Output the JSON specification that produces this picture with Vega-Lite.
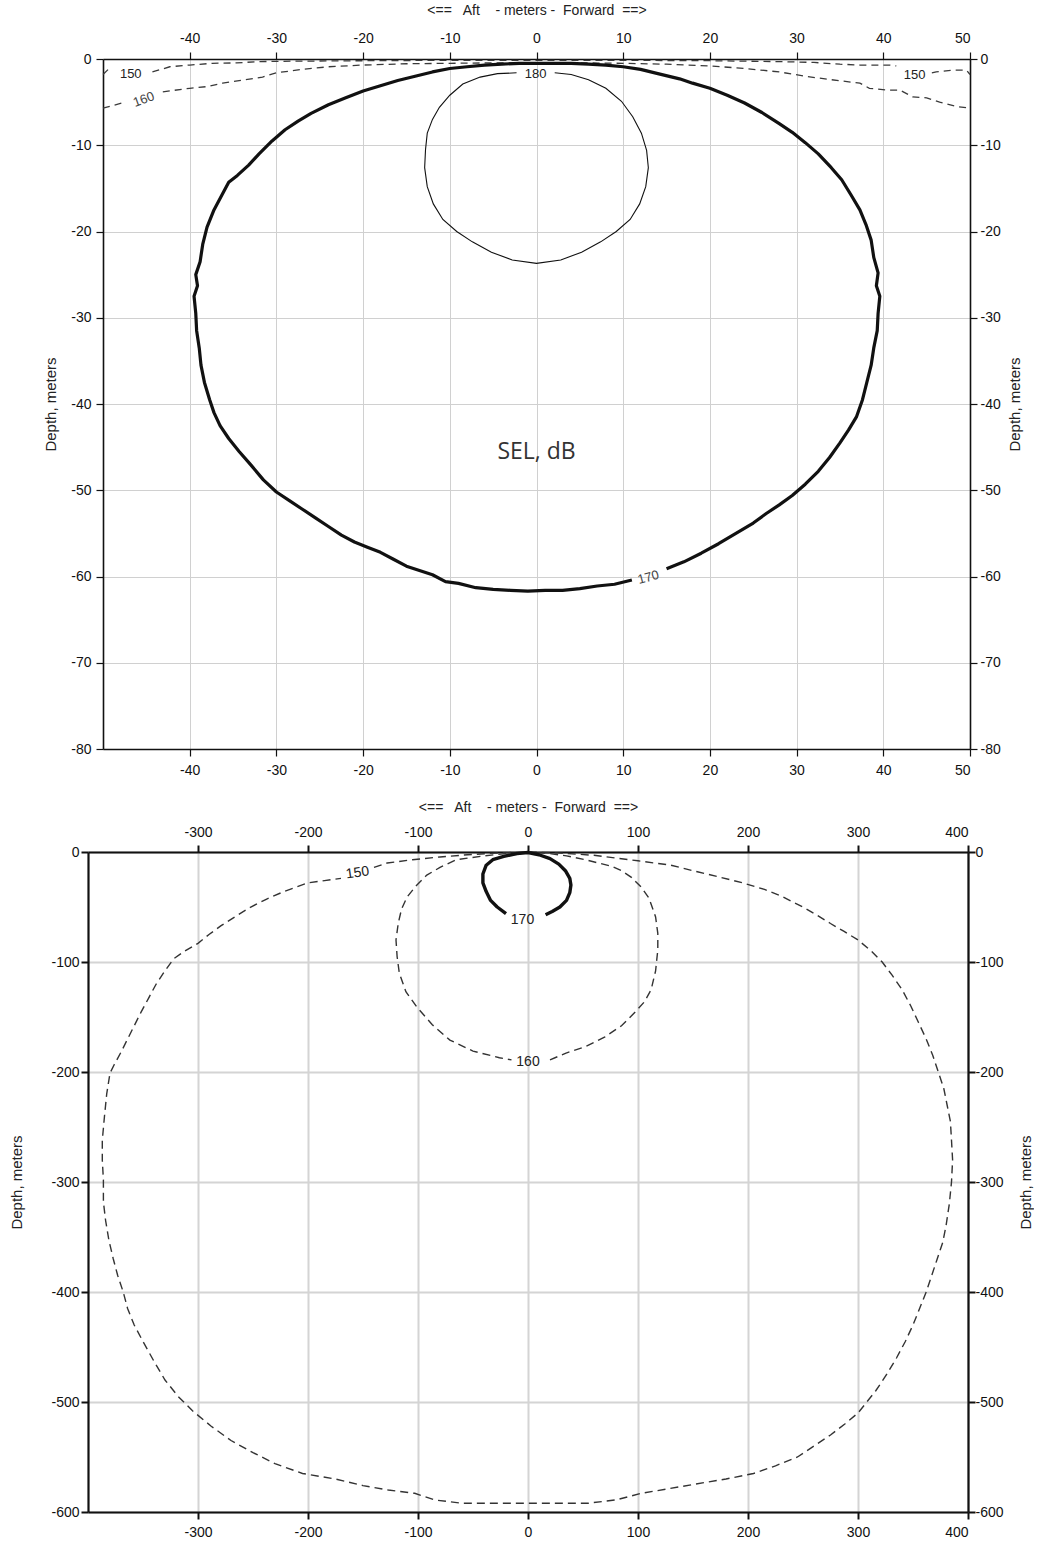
{
"$schema": "https://vega.github.io/schema/vega-lite/v6.json",
"padding": {"left": 9, "top": 3, "right": 0, "bottom": 0},
"background": "white",
"config": {
  "view": {"stroke": null},
  "axis": {"labelFont": "Liberation Sans Narrow, Liberation Sans, sans-serif", "labelFontSize": 14, "labelColor": "#111", "titleFont": "Liberation Sans, sans-serif", "titleFontWeight": "normal", "titleFontSize": 15, "titleColor": "#222", "domainColor": "#111", "tickColor": "#111"}
},
"datasets": {
"top": [
{"s":"t180","c":180,"i":0,"x":2.1,"y":-1.6},{"s":"t180","c":180,"i":1,"x":4,"y":-1.8},{"s":"t180","c":180,"i":2,"x":6,"y":-2.4},{"s":"t180","c":180,"i":3,"x":8,"y":-3.4},{"s":"t180","c":180,"i":4,"x":9.8,"y":-4.9},{"s":"t180","c":180,"i":5,"x":11.1,"y":-6.7},{"s":"t180","c":180,"i":6,"x":12.1,"y":-8.6},{"s":"t180","c":180,"i":7,"x":12.7,"y":-10.6},{"s":"t180","c":180,"i":8,"x":12.9,"y":-12.6},{"s":"t180","c":180,"i":9,"x":12.6,"y":-14.8},{"s":"t180","c":180,"i":10,"x":11.9,"y":-16.8},{"s":"t180","c":180,"i":11,"x":10.8,"y":-18.6},{"s":"t180","c":180,"i":12,"x":9.2,"y":-20},{"s":"t180","c":180,"i":13,"x":7.4,"y":-21.2},{"s":"t180","c":180,"i":14,"x":5.2,"y":-22.4},{"s":"t180","c":180,"i":15,"x":2.8,"y":-23.3},{"s":"t180","c":180,"i":16,"x":0,"y":-23.7},{"s":"t180","c":180,"i":17,"x":-2.8,"y":-23.3},{"s":"t180","c":180,"i":18,"x":-5.2,"y":-22.4},{"s":"t180","c":180,"i":19,"x":-7.4,"y":-21.2},{"s":"t180","c":180,"i":20,"x":-9.2,"y":-20},{"s":"t180","c":180,"i":21,"x":-10.8,"y":-18.6},{"s":"t180","c":180,"i":22,"x":-11.9,"y":-16.8},{"s":"t180","c":180,"i":23,"x":-12.6,"y":-14.8},{"s":"t180","c":180,"i":24,"x":-12.9,"y":-12.6},{"s":"t180","c":180,"i":25,"x":-12.8,"y":-10.5},{"s":"t180","c":180,"i":26,"x":-12.6,"y":-8.6},{"s":"t180","c":180,"i":27,"x":-12,"y":-7},{"s":"t180","c":180,"i":28,"x":-11.2,"y":-5.6},{"s":"t180","c":180,"i":29,"x":-10,"y":-4.2},{"s":"t180","c":180,"i":30,"x":-8.5,"y":-2.9},{"s":"t180","c":180,"i":31,"x":-6.5,"y":-2.1},{"s":"t180","c":180,"i":32,"x":-4.5,"y":-1.7},{"s":"t180","c":180,"i":33,"x":-2.3,"y":-1.6},
{"s":"t170","c":170,"i":0,"x":15,"y":-59.1},{"s":"t170","c":170,"i":1,"x":17,"y":-58.3},{"s":"t170","c":170,"i":2,"x":19,"y":-57.3},{"s":"t170","c":170,"i":3,"x":21,"y":-56.2},{"s":"t170","c":170,"i":4,"x":23,"y":-55},{"s":"t170","c":170,"i":5,"x":25,"y":-53.8},{"s":"t170","c":170,"i":6,"x":26.5,"y":-52.7},{"s":"t170","c":170,"i":7,"x":28,"y":-51.7},{"s":"t170","c":170,"i":8,"x":29.5,"y":-50.6},{"s":"t170","c":170,"i":9,"x":31,"y":-49.3},{"s":"t170","c":170,"i":10,"x":32.5,"y":-47.8},{"s":"t170","c":170,"i":11,"x":33.8,"y":-46.2},{"s":"t170","c":170,"i":12,"x":35,"y":-44.5},{"s":"t170","c":170,"i":13,"x":36,"y":-43},{"s":"t170","c":170,"i":14,"x":36.9,"y":-41.5},{"s":"t170","c":170,"i":15,"x":37.6,"y":-39.5},{"s":"t170","c":170,"i":16,"x":38.1,"y":-37.5},{"s":"t170","c":170,"i":17,"x":38.6,"y":-35.5},{"s":"t170","c":170,"i":18,"x":38.9,"y":-33.5},{"s":"t170","c":170,"i":19,"x":39.3,"y":-31.5},{"s":"t170","c":170,"i":20,"x":39.4,"y":-29.5},{"s":"t170","c":170,"i":21,"x":39.6,"y":-27.5},{"s":"t170","c":170,"i":22,"x":39.2,"y":-26.3},{"s":"t170","c":170,"i":23,"x":39.4,"y":-24.8},{"s":"t170","c":170,"i":24,"x":38.9,"y":-23},{"s":"t170","c":170,"i":25,"x":38.6,"y":-21},{"s":"t170","c":170,"i":26,"x":38,"y":-19.2},{"s":"t170","c":170,"i":27,"x":37.3,"y":-17.5},{"s":"t170","c":170,"i":28,"x":36.3,"y":-15.8},{"s":"t170","c":170,"i":29,"x":35.2,"y":-14},{"s":"t170","c":170,"i":30,"x":34,"y":-12.6},{"s":"t170","c":170,"i":31,"x":32.5,"y":-11},{"s":"t170","c":170,"i":32,"x":31,"y":-9.7},{"s":"t170","c":170,"i":33,"x":29.5,"y":-8.5},{"s":"t170","c":170,"i":34,"x":28,"y":-7.5},{"s":"t170","c":170,"i":35,"x":26,"y":-6.2},{"s":"t170","c":170,"i":36,"x":24,"y":-5.1},{"s":"t170","c":170,"i":37,"x":22,"y":-4.2},{"s":"t170","c":170,"i":38,"x":20,"y":-3.4},{"s":"t170","c":170,"i":39,"x":18,"y":-2.8},{"s":"t170","c":170,"i":40,"x":16.5,"y":-2.3},{"s":"t170","c":170,"i":41,"x":14,"y":-1.7},{"s":"t170","c":170,"i":42,"x":12,"y":-1.2},{"s":"t170","c":170,"i":43,"x":10,"y":-0.9},{"s":"t170","c":170,"i":44,"x":8,"y":-0.7},{"s":"t170","c":170,"i":45,"x":6,"y":-0.6},{"s":"t170","c":170,"i":46,"x":4,"y":-0.5},{"s":"t170","c":170,"i":47,"x":2,"y":-0.5},{"s":"t170","c":170,"i":48,"x":0,"y":-0.5},{"s":"t170","c":170,"i":49,"x":-2,"y":-0.5},{"s":"t170","c":170,"i":50,"x":-4,"y":-0.6},{"s":"t170","c":170,"i":51,"x":-6,"y":-0.7},{"s":"t170","c":170,"i":52,"x":-8,"y":-0.9},{"s":"t170","c":170,"i":53,"x":-10,"y":-1.1},{"s":"t170","c":170,"i":54,"x":-12,"y":-1.5},{"s":"t170","c":170,"i":55,"x":-14,"y":-2},{"s":"t170","c":170,"i":56,"x":-16,"y":-2.5},{"s":"t170","c":170,"i":57,"x":-18,"y":-3.1},{"s":"t170","c":170,"i":58,"x":-20,"y":-3.7},{"s":"t170","c":170,"i":59,"x":-22,"y":-4.5},{"s":"t170","c":170,"i":60,"x":-24,"y":-5.3},{"s":"t170","c":170,"i":61,"x":-26,"y":-6.3},{"s":"t170","c":170,"i":62,"x":-27.5,"y":-7.2},{"s":"t170","c":170,"i":63,"x":-29,"y":-8.2},{"s":"t170","c":170,"i":64,"x":-30.5,"y":-9.5},{"s":"t170","c":170,"i":65,"x":-32,"y":-11},{"s":"t170","c":170,"i":66,"x":-33.2,"y":-12.3},{"s":"t170","c":170,"i":67,"x":-34.5,"y":-13.5},{"s":"t170","c":170,"i":68,"x":-35.5,"y":-14.3},{"s":"t170","c":170,"i":69,"x":-36.3,"y":-15.8},{"s":"t170","c":170,"i":70,"x":-37.2,"y":-17.5},{"s":"t170","c":170,"i":71,"x":-38,"y":-19.5},{"s":"t170","c":170,"i":72,"x":-38.5,"y":-21.5},{"s":"t170","c":170,"i":73,"x":-38.8,"y":-23.5},{"s":"t170","c":170,"i":74,"x":-39.3,"y":-25},{"s":"t170","c":170,"i":75,"x":-39.1,"y":-26.3},{"s":"t170","c":170,"i":76,"x":-39.5,"y":-27.5},{"s":"t170","c":170,"i":77,"x":-39.3,"y":-29.5},{"s":"t170","c":170,"i":78,"x":-39.2,"y":-31.5},{"s":"t170","c":170,"i":79,"x":-38.9,"y":-33.5},{"s":"t170","c":170,"i":80,"x":-38.7,"y":-35.5},{"s":"t170","c":170,"i":81,"x":-38.3,"y":-37.5},{"s":"t170","c":170,"i":82,"x":-37.7,"y":-39.5},{"s":"t170","c":170,"i":83,"x":-37.2,"y":-41},{"s":"t170","c":170,"i":84,"x":-36.5,"y":-42.5},{"s":"t170","c":170,"i":85,"x":-35.5,"y":-44},{"s":"t170","c":170,"i":86,"x":-34.3,"y":-45.5},{"s":"t170","c":170,"i":87,"x":-33,"y":-47},{"s":"t170","c":170,"i":88,"x":-31.5,"y":-48.8},{"s":"t170","c":170,"i":89,"x":-30,"y":-50.2},{"s":"t170","c":170,"i":90,"x":-28.5,"y":-51.2},{"s":"t170","c":170,"i":91,"x":-27,"y":-52.2},{"s":"t170","c":170,"i":92,"x":-25.5,"y":-53.2},{"s":"t170","c":170,"i":93,"x":-24,"y":-54.2},{"s":"t170","c":170,"i":94,"x":-22.5,"y":-55.2},{"s":"t170","c":170,"i":95,"x":-21,"y":-56},{"s":"t170","c":170,"i":96,"x":-19.5,"y":-56.6},{"s":"t170","c":170,"i":97,"x":-18,"y":-57.2},{"s":"t170","c":170,"i":98,"x":-16.5,"y":-58},{"s":"t170","c":170,"i":99,"x":-15,"y":-58.8},{"s":"t170","c":170,"i":100,"x":-13.5,"y":-59.3},{"s":"t170","c":170,"i":101,"x":-12,"y":-59.8},{"s":"t170","c":170,"i":102,"x":-10.5,"y":-60.6},{"s":"t170","c":170,"i":103,"x":-9,"y":-60.8},{"s":"t170","c":170,"i":104,"x":-7,"y":-61.3},{"s":"t170","c":170,"i":105,"x":-5,"y":-61.5},{"s":"t170","c":170,"i":106,"x":-3,"y":-61.6},{"s":"t170","c":170,"i":107,"x":-1,"y":-61.7},{"s":"t170","c":170,"i":108,"x":1,"y":-61.6},{"s":"t170","c":170,"i":109,"x":3,"y":-61.6},{"s":"t170","c":170,"i":110,"x":5,"y":-61.4},{"s":"t170","c":170,"i":111,"x":7,"y":-61.1},{"s":"t170","c":170,"i":112,"x":9,"y":-60.9},{"s":"t170","c":170,"i":113,"x":11,"y":-60.4},
{"s":"t160a","c":160,"i":0,"x":-50,"y":-5.7},{"s":"t160a","c":160,"i":1,"x":-47.8,"y":-5.1},
{"s":"t160b","c":160,"i":0,"x":-43.1,"y":-3.8},{"s":"t160b","c":160,"i":1,"x":-40,"y":-3.4},{"s":"t160b","c":160,"i":2,"x":-38,"y":-3.2},{"s":"t160b","c":160,"i":3,"x":-36.2,"y":-2.8},{"s":"t160b","c":160,"i":4,"x":-34.3,"y":-2.5},{"s":"t160b","c":160,"i":5,"x":-31.6,"y":-2.1},{"s":"t160b","c":160,"i":6,"x":-30,"y":-1.6},{"s":"t160b","c":160,"i":7,"x":-27,"y":-1.2},{"s":"t160b","c":160,"i":8,"x":-24,"y":-0.9},{"s":"t160b","c":160,"i":9,"x":-20,"y":-0.7},{"s":"t160b","c":160,"i":10,"x":-15,"y":-0.55},{"s":"t160b","c":160,"i":11,"x":-10,"y":-0.5},{"s":"t160b","c":160,"i":12,"x":-5,"y":-0.45},{"s":"t160b","c":160,"i":13,"x":0,"y":-0.45},{"s":"t160b","c":160,"i":14,"x":5,"y":-0.45},{"s":"t160b","c":160,"i":15,"x":10,"y":-0.5},{"s":"t160b","c":160,"i":16,"x":15,"y":-0.6},{"s":"t160b","c":160,"i":17,"x":20,"y":-0.8},{"s":"t160b","c":160,"i":18,"x":24,"y":-1.1},{"s":"t160b","c":160,"i":19,"x":28,"y":-1.5},{"s":"t160b","c":160,"i":20,"x":31,"y":-2},{"s":"t160b","c":160,"i":21,"x":34,"y":-2.4},{"s":"t160b","c":160,"i":22,"x":37.3,"y":-2.8},{"s":"t160b","c":160,"i":23,"x":38.4,"y":-3.4},{"s":"t160b","c":160,"i":24,"x":40.4,"y":-3.6},{"s":"t160b","c":160,"i":25,"x":41.9,"y":-3.6},{"s":"t160b","c":160,"i":26,"x":43.4,"y":-4.4},{"s":"t160b","c":160,"i":27,"x":45,"y":-4.5},{"s":"t160b","c":160,"i":28,"x":46.5,"y":-5},{"s":"t160b","c":160,"i":29,"x":48.4,"y":-5.5},{"s":"t160b","c":160,"i":30,"x":50,"y":-5.7},
{"s":"t150a","c":150,"i":0,"x":-50,"y":-1.8},{"s":"t150a","c":150,"i":1,"x":-49.4,"y":-1.2},
{"s":"t150b","c":150,"i":0,"x":-44.3,"y":-1.5},{"s":"t150b","c":150,"i":1,"x":-42.3,"y":-0.9},{"s":"t150b","c":150,"i":2,"x":-40,"y":-0.7},{"s":"t150b","c":150,"i":3,"x":-37.4,"y":-0.5},{"s":"t150b","c":150,"i":4,"x":-34.6,"y":-0.45},{"s":"t150b","c":150,"i":5,"x":-32,"y":-0.3},{"s":"t150b","c":150,"i":6,"x":-28,"y":-0.25},{"s":"t150b","c":150,"i":7,"x":-20,"y":-0.2},{"s":"t150b","c":150,"i":8,"x":-10,"y":-0.15},{"s":"t150b","c":150,"i":9,"x":0,"y":-0.15},{"s":"t150b","c":150,"i":10,"x":10,"y":-0.15},{"s":"t150b","c":150,"i":11,"x":20,"y":-0.2},{"s":"t150b","c":150,"i":12,"x":28,"y":-0.3},{"s":"t150b","c":150,"i":13,"x":32,"y":-0.4},{"s":"t150b","c":150,"i":14,"x":35,"y":-0.6},{"s":"t150b","c":150,"i":15,"x":37.3,"y":-0.7},{"s":"t150b","c":150,"i":16,"x":40.7,"y":-0.7},{"s":"t150b","c":150,"i":17,"x":41.5,"y":-0.8},
{"s":"t150c","c":150,"i":0,"x":45.6,"y":-1.6},{"s":"t150c","c":150,"i":1,"x":46.1,"y":-1.5},{"s":"t150c","c":150,"i":2,"x":48,"y":-1.3},{"s":"t150c","c":150,"i":3,"x":49.6,"y":-1.3},{"s":"t150c","c":150,"i":4,"x":50,"y":-1.8}
],
"topLab": [
{"t":"180","x":-0.1,"y":-1.7},{"t":"150","x":-46.8,"y":-1.7},{"t":"150","x":43.6,"y":-1.8},{"t":"160","x":-45.3,"y":-4.7},{"t":"170","x":12.9,"y":-60.1}
],
"sel": [{"t":"SEL, dB","x":0,"y":-45.6}],
"bot": [
{"s":"b150","c":150,"i":0,"x":-140,"y":-14},{"s":"b150","c":150,"i":1,"x":-128,"y":-10},{"s":"b150","c":150,"i":2,"x":-105,"y":-7},{"s":"b150","c":150,"i":3,"x":-80,"y":-4.5},{"s":"b150","c":150,"i":4,"x":-55,"y":-2.5},{"s":"b150","c":150,"i":5,"x":-30,"y":-1},{"s":"b150","c":150,"i":6,"x":0,"y":0},{"s":"b150","c":150,"i":7,"x":30,"y":-1},{"s":"b150","c":150,"i":8,"x":60,"y":-3},{"s":"b150","c":150,"i":9,"x":100,"y":-8},{"s":"b150","c":150,"i":10,"x":130,"y":-12},{"s":"b150","c":150,"i":11,"x":154,"y":-18},{"s":"b150","c":150,"i":12,"x":175,"y":-23},{"s":"b150","c":150,"i":13,"x":195,"y":-28},{"s":"b150","c":150,"i":14,"x":215,"y":-34},{"s":"b150","c":150,"i":15,"x":230,"y":-40},{"s":"b150","c":150,"i":16,"x":250,"y":-50},{"s":"b150","c":150,"i":17,"x":262,"y":-57},{"s":"b150","c":150,"i":18,"x":275,"y":-65},{"s":"b150","c":150,"i":19,"x":287,"y":-72},{"s":"b150","c":150,"i":20,"x":300,"y":-80},{"s":"b150","c":150,"i":21,"x":312,"y":-90},{"s":"b150","c":150,"i":22,"x":322,"y":-100},{"s":"b150","c":150,"i":23,"x":331,"y":-112},{"s":"b150","c":150,"i":24,"x":340,"y":-125},{"s":"b150","c":150,"i":25,"x":348,"y":-140},{"s":"b150","c":150,"i":26,"x":355,"y":-155},{"s":"b150","c":150,"i":27,"x":362,"y":-170},{"s":"b150","c":150,"i":28,"x":368,"y":-185},{"s":"b150","c":150,"i":29,"x":373,"y":-200},{"s":"b150","c":150,"i":30,"x":378,"y":-215},{"s":"b150","c":150,"i":31,"x":381,"y":-230},{"s":"b150","c":150,"i":32,"x":384,"y":-245},{"s":"b150","c":150,"i":33,"x":385,"y":-262},{"s":"b150","c":150,"i":34,"x":386,"y":-280},{"s":"b150","c":150,"i":35,"x":385,"y":-300},{"s":"b150","c":150,"i":36,"x":383,"y":-320},{"s":"b150","c":150,"i":37,"x":380,"y":-340},{"s":"b150","c":150,"i":38,"x":377,"y":-355},{"s":"b150","c":150,"i":39,"x":372,"y":-370},{"s":"b150","c":150,"i":40,"x":367,"y":-385},{"s":"b150","c":150,"i":41,"x":362,"y":-400},{"s":"b150","c":150,"i":42,"x":356,"y":-415},{"s":"b150","c":150,"i":43,"x":350,"y":-430},{"s":"b150","c":150,"i":44,"x":343,"y":-445},{"s":"b150","c":150,"i":45,"x":335,"y":-460},{"s":"b150","c":150,"i":46,"x":326,"y":-475},{"s":"b150","c":150,"i":47,"x":316,"y":-490},{"s":"b150","c":150,"i":48,"x":308,"y":-500},{"s":"b150","c":150,"i":49,"x":300,"y":-510},{"s":"b150","c":150,"i":50,"x":288,"y":-520},{"s":"b150","c":150,"i":51,"x":275,"y":-530},{"s":"b150","c":150,"i":52,"x":260,"y":-540},{"s":"b150","c":150,"i":53,"x":245,"y":-550},{"s":"b150","c":150,"i":54,"x":225,"y":-558},{"s":"b150","c":150,"i":55,"x":205,"y":-565},{"s":"b150","c":150,"i":56,"x":180,"y":-570},{"s":"b150","c":150,"i":57,"x":150,"y":-575},{"s":"b150","c":150,"i":58,"x":127,"y":-579},{"s":"b150","c":150,"i":59,"x":103,"y":-583},{"s":"b150","c":150,"i":60,"x":80,"y":-589},{"s":"b150","c":150,"i":61,"x":55,"y":-592},{"s":"b150","c":150,"i":62,"x":20,"y":-592},{"s":"b150","c":150,"i":63,"x":-20,"y":-592},{"s":"b150","c":150,"i":64,"x":-60,"y":-592},{"s":"b150","c":150,"i":65,"x":-85,"y":-589},{"s":"b150","c":150,"i":66,"x":-103,"y":-583},{"s":"b150","c":150,"i":67,"x":-127,"y":-580},{"s":"b150","c":150,"i":68,"x":-150,"y":-576},{"s":"b150","c":150,"i":69,"x":-175,"y":-570},{"s":"b150","c":150,"i":70,"x":-205,"y":-565},{"s":"b150","c":150,"i":71,"x":-230,"y":-556},{"s":"b150","c":150,"i":72,"x":-250,"y":-546},{"s":"b150","c":150,"i":73,"x":-270,"y":-535},{"s":"b150","c":150,"i":74,"x":-288,"y":-522},{"s":"b150","c":150,"i":75,"x":-305,"y":-508},{"s":"b150","c":150,"i":76,"x":-318,"y":-495},{"s":"b150","c":150,"i":77,"x":-330,"y":-480},{"s":"b150","c":150,"i":78,"x":-340,"y":-463},{"s":"b150","c":150,"i":79,"x":-350,"y":-445},{"s":"b150","c":150,"i":80,"x":-358,"y":-430},{"s":"b150","c":150,"i":81,"x":-364,"y":-415},{"s":"b150","c":150,"i":82,"x":-368,"y":-400},{"s":"b150","c":150,"i":83,"x":-373,"y":-385},{"s":"b150","c":150,"i":84,"x":-377,"y":-370},{"s":"b150","c":150,"i":85,"x":-381,"y":-353},{"s":"b150","c":150,"i":86,"x":-384,"y":-335},{"s":"b150","c":150,"i":87,"x":-386,"y":-318},{"s":"b150","c":150,"i":88,"x":-386,"y":-298},{"s":"b150","c":150,"i":89,"x":-387,"y":-280},{"s":"b150","c":150,"i":90,"x":-387,"y":-262},{"s":"b150","c":150,"i":91,"x":-385,"y":-240},{"s":"b150","c":150,"i":92,"x":-383,"y":-220},{"s":"b150","c":150,"i":93,"x":-380,"y":-201},{"s":"b150","c":150,"i":94,"x":-376,"y":-193},{"s":"b150","c":150,"i":95,"x":-370,"y":-182},{"s":"b150","c":150,"i":96,"x":-364,"y":-170},{"s":"b150","c":150,"i":97,"x":-358,"y":-158},{"s":"b150","c":150,"i":98,"x":-352,"y":-146},{"s":"b150","c":150,"i":99,"x":-345,"y":-133},{"s":"b150","c":150,"i":100,"x":-338,"y":-120},{"s":"b150","c":150,"i":101,"x":-330,"y":-108},{"s":"b150","c":150,"i":102,"x":-322,"y":-97},{"s":"b150","c":150,"i":103,"x":-312,"y":-90},{"s":"b150","c":150,"i":104,"x":-300,"y":-83},{"s":"b150","c":150,"i":105,"x":-290,"y":-75},{"s":"b150","c":150,"i":106,"x":-279,"y":-67},{"s":"b150","c":150,"i":107,"x":-265,"y":-58},{"s":"b150","c":150,"i":108,"x":-252,"y":-50},{"s":"b150","c":150,"i":109,"x":-238,"y":-43},{"s":"b150","c":150,"i":110,"x":-222,"y":-36},{"s":"b150","c":150,"i":111,"x":-200,"y":-28},{"s":"b150","c":150,"i":112,"x":-185,"y":-26},{"s":"b150","c":150,"i":113,"x":-170,"y":-24},
{"s":"b160","c":160,"i":0,"x":20,"y":-189},{"s":"b160","c":160,"i":1,"x":34,"y":-183},{"s":"b160","c":160,"i":2,"x":52,"y":-177},{"s":"b160","c":160,"i":3,"x":70,"y":-168},{"s":"b160","c":160,"i":4,"x":85,"y":-158},{"s":"b160","c":160,"i":5,"x":97,"y":-146},{"s":"b160","c":160,"i":6,"x":106,"y":-136},{"s":"b160","c":160,"i":7,"x":112,"y":-125},{"s":"b160","c":160,"i":8,"x":116,"y":-108},{"s":"b160","c":160,"i":9,"x":118,"y":-89},{"s":"b160","c":160,"i":10,"x":118,"y":-74},{"s":"b160","c":160,"i":11,"x":116,"y":-59},{"s":"b160","c":160,"i":12,"x":110,"y":-42},{"s":"b160","c":160,"i":13,"x":103,"y":-32},{"s":"b160","c":160,"i":14,"x":94,"y":-23},{"s":"b160","c":160,"i":15,"x":85,"y":-17},{"s":"b160","c":160,"i":16,"x":76,"y":-13},{"s":"b160","c":160,"i":17,"x":64,"y":-10},{"s":"b160","c":160,"i":18,"x":52,"y":-7},{"s":"b160","c":160,"i":19,"x":35,"y":-3.5},{"s":"b160","c":160,"i":20,"x":18,"y":-1.2},{"s":"b160","c":160,"i":21,"x":0,"y":0},{"s":"b160","c":160,"i":22,"x":-20,"y":-1.5},{"s":"b160","c":160,"i":23,"x":-40,"y":-3.5},{"s":"b160","c":160,"i":24,"x":-65,"y":-7},{"s":"b160","c":160,"i":25,"x":-80,"y":-14},{"s":"b160","c":160,"i":26,"x":-92,"y":-21},{"s":"b160","c":160,"i":27,"x":-102,"y":-31},{"s":"b160","c":160,"i":28,"x":-110,"y":-41},{"s":"b160","c":160,"i":29,"x":-115,"y":-52},{"s":"b160","c":160,"i":30,"x":-118,"y":-65},{"s":"b160","c":160,"i":31,"x":-120,"y":-80},{"s":"b160","c":160,"i":32,"x":-119,"y":-95},{"s":"b160","c":160,"i":33,"x":-117,"y":-110},{"s":"b160","c":160,"i":34,"x":-111,"y":-127},{"s":"b160","c":160,"i":35,"x":-101,"y":-141},{"s":"b160","c":160,"i":36,"x":-87,"y":-157},{"s":"b160","c":160,"i":37,"x":-71,"y":-171},{"s":"b160","c":160,"i":38,"x":-50,"y":-181},{"s":"b160","c":160,"i":39,"x":-26,"y":-187},{"s":"b160","c":160,"i":40,"x":-15,"y":-189},
{"s":"b170","c":170,"i":0,"x":-20,"y":-56},{"s":"b170","c":170,"i":1,"x":-28,"y":-50},{"s":"b170","c":170,"i":2,"x":-34,"y":-44},{"s":"b170","c":170,"i":3,"x":-38,"y":-36},{"s":"b170","c":170,"i":4,"x":-41,"y":-28},{"s":"b170","c":170,"i":5,"x":-41,"y":-20},{"s":"b170","c":170,"i":6,"x":-38,"y":-12},{"s":"b170","c":170,"i":7,"x":-32,"y":-7},{"s":"b170","c":170,"i":8,"x":-22,"y":-4},{"s":"b170","c":170,"i":9,"x":-10,"y":-1.5},{"s":"b170","c":170,"i":10,"x":0,"y":-0.5},{"s":"b170","c":170,"i":11,"x":10,"y":-2.5},{"s":"b170","c":170,"i":12,"x":20,"y":-6},{"s":"b170","c":170,"i":13,"x":28,"y":-11},{"s":"b170","c":170,"i":14,"x":34,"y":-17},{"s":"b170","c":170,"i":15,"x":38,"y":-24},{"s":"b170","c":170,"i":16,"x":39,"y":-30},{"s":"b170","c":170,"i":17,"x":38,"y":-37},{"s":"b170","c":170,"i":18,"x":35,"y":-44},{"s":"b170","c":170,"i":19,"x":29,"y":-50},{"s":"b170","c":170,"i":20,"x":22,"y":-54},{"s":"b170","c":170,"i":21,"x":16,"y":-57}
],
"botLab": [
{"t":"150","x":-155,"y":-19},{"t":"160","x":0,"y":-191},{"t":"170","x":-5,"y":-62}
]
},
"concat": [
{
 "width": 882, "height": 690,
 "layer": [
  {"data": {"name": "top"}, "transform": [{"filter": "datum.c < 170"}],
   "mark": {"type": "line", "stroke": "#3a3a3a", "strokeWidth": 1.3, "strokeDash": [7, 5]},
   "encoding": {
    "x": {"field": "x", "type": "quantitative", "scale": {"domain": [-50, 50], "range": [15, 882], "nice": false, "zero": false},
          "axis": {"orient": "bottom", "title": null, "values": [-40,-30,-20,-10,0,10,20,30,40,50], "labelExpr": "'' + datum.value", "grid": true, "gridColor": "#d0d0d0", "gridWidth": 1, "domainWidth": 1.6, "tickSize": 7, "tickWidth": 1.2, "labelPadding": 7}},
    "y": {"field": "y", "type": "quantitative", "scale": {"domain": [-80, 0], "nice": false, "zero": false},
          "axis": {"orient": "left", "offset": -15, "title": "Depth, meters", "values": [0,-10,-20,-30,-40,-50,-60,-70,-80], "labelExpr": "'' + datum.value", "grid": true, "gridColor": "#d0d0d0", "gridWidth": 1, "domainWidth": 1.6, "tickSize": 7, "tickWidth": 1.2, "labelPadding": 5, "titlePadding": 12}},
    "detail": {"field": "s"}, "order": {"field": "i", "type": "quantitative"}}},
  {"data": {"name": "top"}, "transform": [{"filter": "datum.c == 170"}],
   "mark": {"type": "line", "stroke": "#111", "strokeWidth": 3.2, "strokeJoin": "round"},
   "encoding": {
    "x": {"field": "x", "type": "quantitative", "scale": {"domain": [-50, 50], "range": [15, 882], "nice": false, "zero": false},
          "axis": {"orient": "top", "title": "<==\u00a0\u00a0 Aft \u00a0\u00a0 - meters - \u00a0Forward \u00a0==>", "titlePadding": 14, "titleFontSize": 14, "values": [-40,-30,-20,-10,0,10,20,30,40,50], "labelExpr": "'' + datum.value", "grid": false, "domainWidth": 1.6, "tickSize": 7, "tickWidth": 1.2, "labelPadding": 7}},
    "y": {"field": "y", "type": "quantitative", "scale": {"domain": [-80, 0], "nice": false, "zero": false},
          "axis": {"orient": "right", "title": "Depth, meters", "titleAngle": 270, "values": [0,-10,-20,-30,-40,-50,-60,-70,-80], "labelExpr": "'' + datum.value", "grid": false, "domainWidth": 1.6, "tickSize": 7, "tickWidth": 1.2, "labelPadding": 3, "titlePadding": 22}},
    "detail": {"field": "s"}, "order": {"field": "i", "type": "quantitative"}}},
  {"data": {"name": "top"}, "transform": [{"filter": "datum.c == 180"}],
   "mark": {"type": "line", "stroke": "#111", "strokeWidth": 1.1},
   "encoding": {
    "x": {"field": "x", "type": "quantitative", "axis": null},
    "y": {"field": "y", "type": "quantitative", "axis": null},
    "detail": {"field": "s"}, "order": {"field": "i", "type": "quantitative"}}},
  {"data": {"name": "topLab"}, "transform": [{"filter": "datum.t == '150' || datum.t == '180'"}],
   "mark": {"type": "text", "font": "Liberation Sans, sans-serif", "fontSize": 13, "color": "#222", "align": "center", "baseline": "middle"},
   "encoding": {"x": {"field": "x", "type": "quantitative", "axis": null}, "y": {"field": "y", "type": "quantitative", "axis": null}, "text": {"field": "t"}}},
  {"data": {"name": "topLab"}, "transform": [{"filter": "datum.t == '160'"}],
   "mark": {"type": "text", "font": "Liberation Sans, sans-serif", "fontSize": 13, "color": "#444", "align": "center", "baseline": "middle", "angle": 340},
   "encoding": {"x": {"field": "x", "type": "quantitative", "axis": null}, "y": {"field": "y", "type": "quantitative", "axis": null}, "text": {"field": "t"}}},
  {"data": {"name": "topLab"}, "transform": [{"filter": "datum.t == '170'"}],
   "mark": {"type": "text", "font": "Liberation Sans, sans-serif", "fontSize": 13, "color": "#444", "align": "center", "baseline": "middle", "angle": 345},
   "encoding": {"x": {"field": "x", "type": "quantitative", "axis": null}, "y": {"field": "y", "type": "quantitative", "axis": null}, "text": {"field": "t"}}},
  {"data": {"name": "sel"},
   "mark": {"type": "text", "font": "Open Sans, sans-serif", "fontSize": 23, "color": "#333", "align": "center", "baseline": "middle"},
   "encoding": {"x": {"field": "x", "type": "quantitative", "axis": null}, "y": {"field": "y", "type": "quantitative", "axis": null}, "text": {"field": "t"}}}
 ],
 "resolve": {"axis": {"x": "independent", "y": "independent"}}
},
{
 "width": 880, "height": 660,
 "layer": [
  {"data": {"name": "bot"}, "transform": [{"filter": "datum.c < 170"}],
   "mark": {"type": "line", "stroke": "#333", "strokeWidth": 1.4, "strokeDash": [8, 5]},
   "encoding": {
    "x": {"field": "x", "type": "quantitative", "scale": {"domain": [-400, 400], "nice": false, "zero": false},
          "axis": {"orient": "bottom", "title": null, "values": [-300,-200,-100,0,100,200,300,400], "labelExpr": "'' + datum.value", "grid": true, "gridColor": "#d4d4d4", "gridWidth": 2, "domainWidth": 2.2, "tickSize": 7, "tickWidth": 2, "labelPadding": 6}},
    "y": {"field": "y", "type": "quantitative", "scale": {"domain": [-600, 0], "nice": false, "zero": false},
          "axis": {"orient": "left", "title": "Depth, meters", "values": [0,-100,-200,-300,-400,-500,-600], "labelExpr": "'' + datum.value", "grid": true, "gridColor": "#d4d4d4", "gridWidth": 2, "domainWidth": 2.2, "tickSize": 7, "tickWidth": 2, "labelPadding": 2, "titlePadding": 26}},
    "detail": {"field": "s"}, "order": {"field": "i", "type": "quantitative"}}},
  {"data": {"name": "bot"}, "transform": [{"filter": "datum.c == 170"}],
   "mark": {"type": "line", "stroke": "#111", "strokeWidth": 3.4, "strokeJoin": "round"},
   "encoding": {
    "x": {"field": "x", "type": "quantitative", "scale": {"domain": [-400, 400], "nice": false, "zero": false},
          "axis": {"orient": "top", "title": "<==\u00a0\u00a0 Aft \u00a0\u00a0 - meters - \u00a0Forward \u00a0==>", "titlePadding": 11, "titleFontSize": 14, "values": [-300,-200,-100,0,100,200,300,400], "labelExpr": "'' + datum.value", "grid": false, "domainWidth": 2.2, "tickSize": 7, "tickWidth": 2, "labelPadding": 6}},
    "y": {"field": "y", "type": "quantitative", "scale": {"domain": [-600, 0], "nice": false, "zero": false},
          "axis": {"orient": "right", "title": "Depth, meters", "titleAngle": 270, "values": [0,-100,-200,-300,-400,-500,-600], "labelExpr": "'' + datum.value", "grid": false, "domainWidth": 2.2, "tickSize": 7, "tickWidth": 2, "labelPadding": 0, "titlePadding": 30}},
    "detail": {"field": "s"}, "order": {"field": "i", "type": "quantitative"}}},
  {"data": {"name": "botLab"}, "transform": [{"filter": "datum.t == '150'"}],
   "mark": {"type": "text", "font": "Liberation Sans, sans-serif", "fontSize": 14, "color": "#222", "align": "center", "baseline": "middle", "angle": 352},
   "encoding": {"x": {"field": "x", "type": "quantitative", "axis": null}, "y": {"field": "y", "type": "quantitative", "axis": null}, "text": {"field": "t"}}},
  {"data": {"name": "botLab"}, "transform": [{"filter": "datum.t != '150'"}],
   "mark": {"type": "text", "font": "Liberation Sans, sans-serif", "fontSize": 14, "color": "#222", "align": "center", "baseline": "middle"},
   "encoding": {"x": {"field": "x", "type": "quantitative", "axis": null}, "y": {"field": "y", "type": "quantitative", "axis": null}, "text": {"field": "t"}}}
 ],
 "resolve": {"axis": {"x": "independent", "y": "independent"}}
}
],
"columns": 1,
"align": "none",
"spacing": 23
}
